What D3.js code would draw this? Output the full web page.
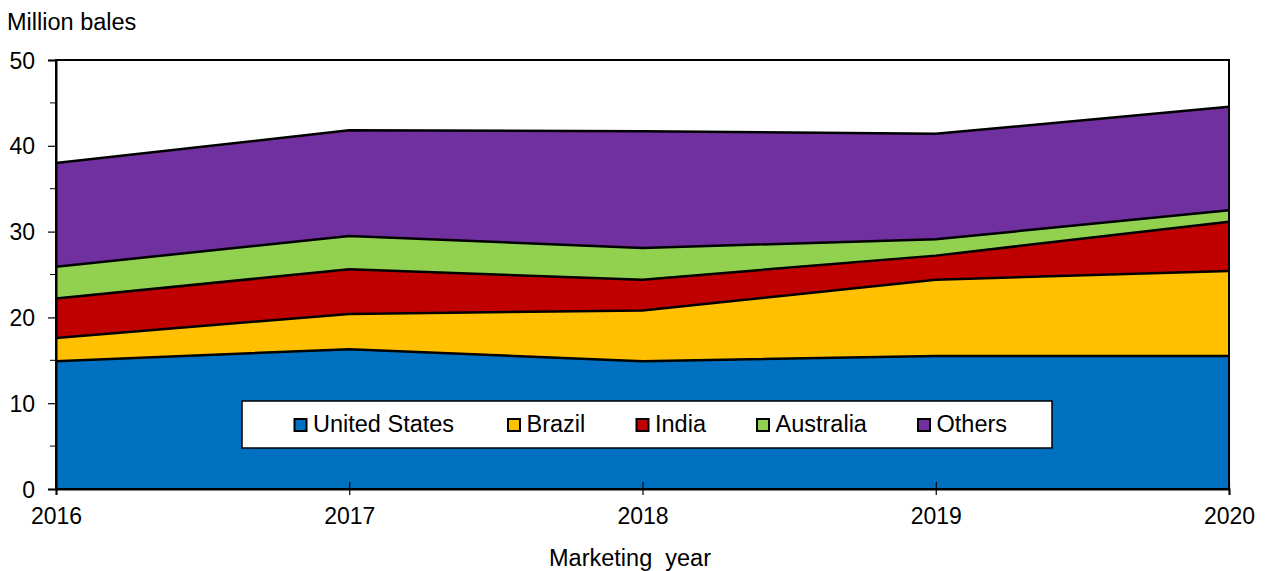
<!DOCTYPE html>
<html>
<head>
<meta charset="utf-8">
<script src="https://cdn.jsdelivr.net/npm/d3@7"></script>
<style>
  body { margin: 0; background: #fff; }
  text { font-family: "Liberation Sans", Arial, sans-serif; fill: #000; }
</style>
</head>
<body>
<div class="svg-wrap"></div>
<script>
// data
const years = [2016, 2017, 2018, 2019, 2020];
const unitedStates = [14.9, 16.3, 14.9, 15.5, 15.5];
const brazil = [2.7, 4.1, 5.9, 8.9, 9.9];
const india = [4.6, 5.2, 3.6, 2.8, 5.75];
const australia = [3.7, 3.9, 3.7, 1.9, 1.35];
const others = [12.1, 12.3, 13.6, 12.3, 12.05];
const seriesNames = ["United States", "Brazil", "India", "Australia", "Others"];
const colors = ["#0070C0", "#FFC000", "#C00000", "#92D050", "#7030A0"];
const yTicks = [0, 10, 20, 30, 40, 50];

const width = 1265;
const height = 571;
const margin = { left: 56, right: 36, top: 60, bottom: 82 };

const rows = years.map((yr, i) => ({
  year: yr,
  "United States": unitedStates[i],
  "Brazil": brazil[i],
  "India": india[i],
  "Australia": australia[i],
  "Others": others[i]
}));

let svg = d3.select(".svg-wrap")
  .append("svg")
  .attr("width", width)
  .attr("height", height);

const scaleX = d3.scaleLinear()
  .domain([2016, 2020])
  .range([margin.left, width - margin.right]);

const scaleY = d3.scaleLinear()
  .domain([0, 50])
  .range([height - margin.bottom, margin.top]);

const stacked = d3.stack().keys(seriesNames)(rows);

const area = d3.area()
  .x(d => scaleX(d.data.year))
  .y0(d => scaleY(d[0]))
  .y1(d => scaleY(d[1]));

const topLine = d3.line()
  .x(d => scaleX(d.data.year))
  .y(d => scaleY(d[1]));

svg.selectAll(".layer")
  .data(stacked)
  .enter()
  .append("path")
  .attr("class", "layer")
  .attr("d", area)
  .style("fill", (d, i) => colors[i]);

svg.selectAll(".edge")
  .data(stacked)
  .enter()
  .append("path")
  .attr("class", "edge")
  .attr("d", topLine)
  .style("fill", "none")
  .style("stroke", "#000")
  .style("stroke-width", 2.5)
  .style("stroke-linejoin", "round");

// plot frame
svg.append("rect")
  .attr("x", scaleX(2016))
  .attr("y", scaleY(50))
  .attr("width", scaleX(2020) - scaleX(2016))
  .attr("height", scaleY(0) - scaleY(50))
  .style("fill", "none")
  .style("stroke", "#000")
  .style("stroke-width", 2);

// y axis
let yAxis = d3.axisLeft(scaleY)
  .tickValues(yTicks)
  .tickSize(8)
  .tickPadding(13);

svg.append("g")
  .attr("transform", `translate(${margin.left},0)`)
  .call(yAxis)
  .call(g => g.select(".domain").attr("stroke-width", 2))
  .call(g => g.selectAll("line").attr("stroke-width", 1.2))
  .call(g => g.selectAll("text").style("font-size", "23px").attr("dy", "0.35em"));

// minor y ticks
svg.append("g")
  .selectAll("line")
  .data([5, 15, 25, 35, 45])
  .enter()
  .append("line")
  .attr("x1", margin.left - 6)
  .attr("x2", margin.left)
  .attr("y1", d => scaleY(d))
  .attr("y2", d => scaleY(d))
  .style("stroke", "#000")
  .style("stroke-width", 1);

// x axis
let xAxis = d3.axisBottom(scaleX)
  .tickValues(years)
  .tickFormat(d3.format("d"))
  .tickSize(6)
  .tickPadding(13);

svg.append("g")
  .attr("transform", `translate(0,${scaleY(0)})`)
  .call(xAxis)
  .call(g => g.select(".domain").attr("stroke-width", 2))
  .call(g => g.selectAll(".tick line").attr("y1", -7).attr("stroke-width", 1.2))
  .call(g => g.selectAll("text").style("font-size", "23px"));

// titles
svg.append("text")
  .attr("x", 7)
  .attr("y", 30)
  .style("font-size", "23.5px")
  .text("Million bales");

svg.append("text")
  .attr("x", 630)
  .attr("y", 566)
  .attr("text-anchor", "middle")
  .attr("xml:space", "preserve")
  .style("font-size", "23.5px")
  .text("Marketing  year");

// legend
const legend = svg.append("g");
legend.append("rect")
  .attr("x", 242)
  .attr("y", 401)
  .attr("width", 810)
  .attr("height", 47)
  .style("fill", "#fff")
  .style("stroke", "#000")
  .style("stroke-width", 1.5);

const legendX = [294.5, 508, 636.5, 757, 918];
const items = legend.selectAll(".item")
  .data(seriesNames)
  .enter()
  .append("g")
  .attr("class", "item")
  .attr("transform", (d, i) => `translate(${legendX[i]},425)`);

items.append("rect")
  .attr("x", 0)
  .attr("y", -6)
  .attr("width", 12)
  .attr("height", 12)
  .style("fill", (d, i) => colors[i])
  .style("stroke", "#000")
  .style("stroke-width", 2);

items.append("text")
  .attr("x", 18.5)
  .attr("y", 7)
  .style("font-size", "23.5px")
  .text(d => d);
</script>
</body>
</html>
